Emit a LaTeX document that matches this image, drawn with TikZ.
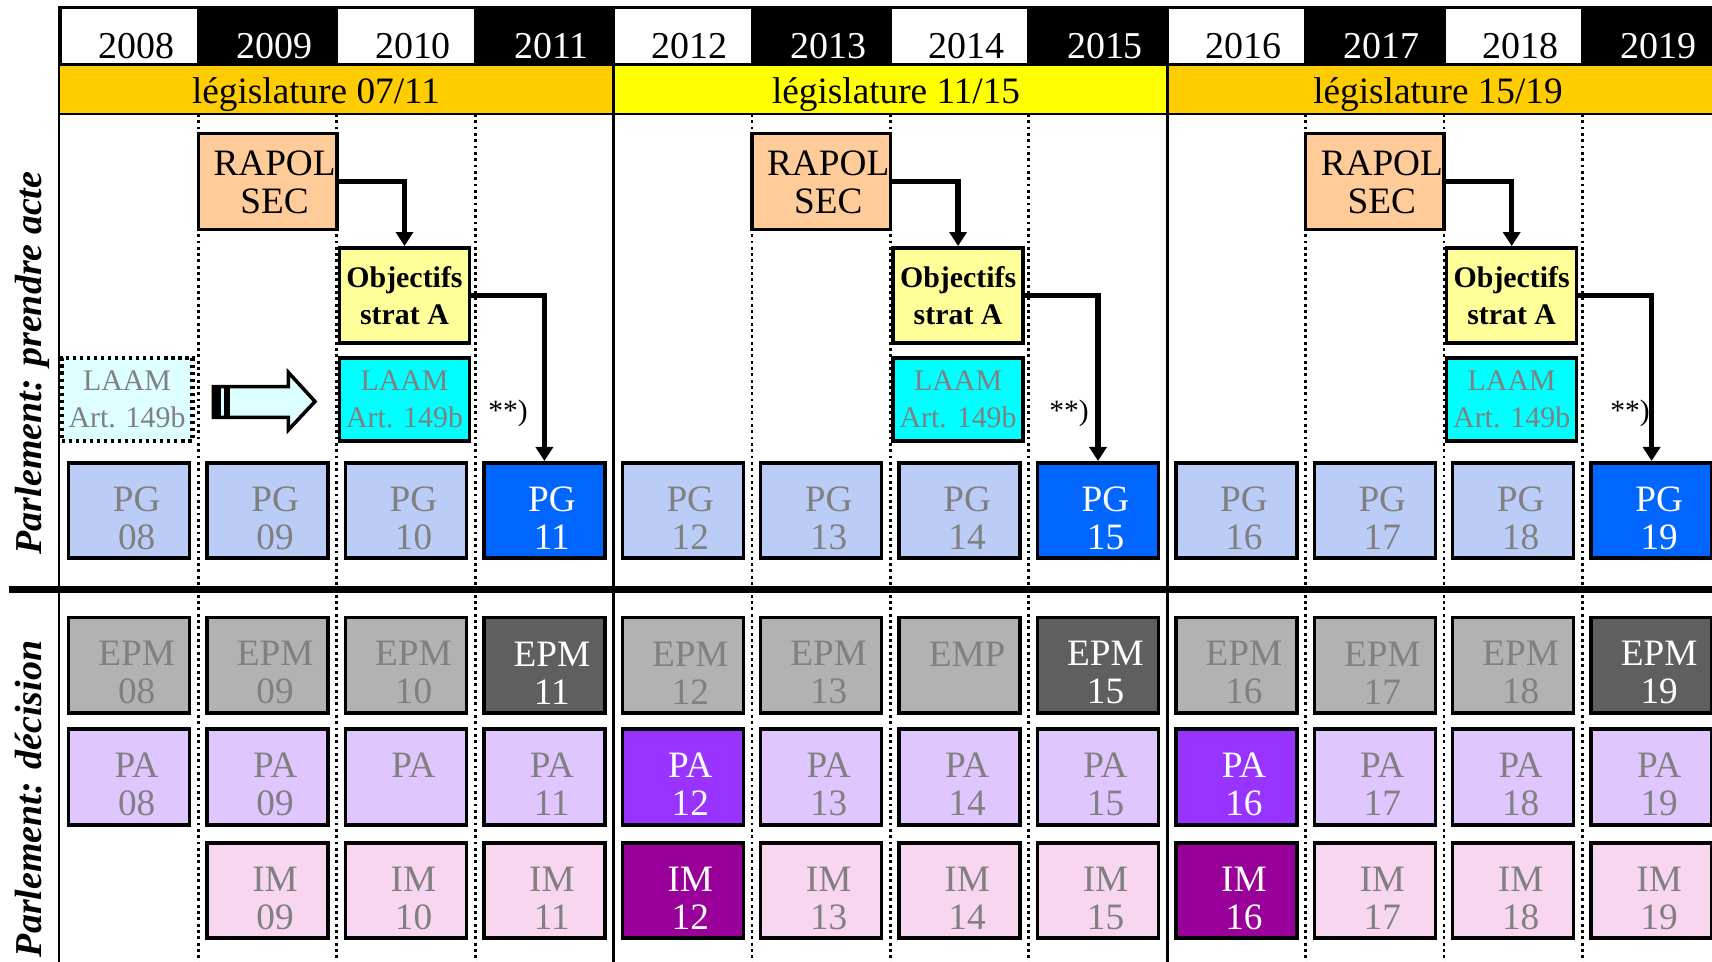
\documentclass[tikz,border=0pt]{standalone}
\usepackage{fontspec}
\setmainfont{Liberation Serif}
\usetikzlibrary{calc,arrows.meta}

\definecolor{pglight}{RGB}{187,204,247}
\definecolor{pgdark}{RGB}{0,102,255}
\definecolor{epmlight}{RGB}{178,178,178}
\definecolor{epmdark}{RGB}{95,95,95}
\definecolor{palight}{RGB}{224,198,255}
\definecolor{padark}{RGB}{153,51,255}
\definecolor{imlight}{RGB}{248,214,240}
\definecolor{imdark}{RGB}{153,0,153}
\definecolor{rapolfill}{RGB}{255,204,153}
\definecolor{objfill}{RGB}{255,255,153}
\definecolor{laamfill}{RGB}{0,255,255}
\definecolor{laamlight}{RGB}{221,255,255}
\definecolor{legorange}{RGB}{255,204,0}
\definecolor{legyellow}{RGB}{255,255,0}
\definecolor{txtgray}{RGB}{128,128,128}

\begin{document}
\begin{tikzpicture}[%
  cell/.style={draw,line width=1pt,minimum width=1.21cm,minimum height=0.955cm,inner sep=0pt},
  pgdim/.style={cell,fill=pglight},
  pghi/.style={cell,fill=pgdark},
  epmdim/.style={cell,fill=epmlight},
  epmhi/.style={cell,fill=epmdark},
  padim/.style={cell,fill=palight},
  pahi/.style={cell,fill=padark},
  imdim/.style={cell,fill=imlight},
  imhi/.style={cell,fill=imdark},
  celltext/.style={align=center,inner sep=0pt,font=\fontsize{10.6}{10.8}\selectfont},
  txtdim/.style={celltext,text=txtgray},
  txthi/.style={celltext,text=white},
  rapol/.style={draw,line width=1pt,fill=rapolfill,minimum width=1.384cm,minimum height=0.96cm,inner sep=0pt},
  objectif/.style={draw,line width=1pt,fill=objfill,minimum width=1.30cm,minimum height=0.95cm,
    inner sep=0pt,align=center,font=\bfseries\fontsize{8.5}{10.6}\selectfont},
  laam/.style={draw,line width=1pt,fill=laamfill,minimum width=1.30cm,minimum height=0.83cm,
    inner sep=0pt,align=center,text=txtgray,font=\fontsize{8.5}{10.7}\selectfont},
  year/.style={anchor=base,font=\fontsize{10.8}{12}\selectfont},
  legis/.style={anchor=base,font=\fontsize{10.6}{12}\selectfont},
  side/.style={rotate=90,anchor=base,font=\bfseries\itshape\fontsize{10.8}{12}\selectfont},
  note/.style={anchor=base,font=\fontsize{8.4}{10}\selectfont},
  link/.style={line width=1.5pt,-{Triangle[width=0.17cm,length=0.14cm]}},
  sep/.style={densely dotted,line width=0.8pt}]
    \useasboundingbox (0,0) rectangle (17.12,-9.62);
    \clip (0,0) rectangle (17.12,-9.62);
    % Years
    \fill[black] (0.59,-0.06) rectangle (17.12,-0.66);
    \foreach \n/\yr/\bg/\fg in {0/2008/white/black,1/2009/black/white,2/2010/white/black,
      3/2011/black/white,4/2012/white/black,5/2013/black/white,6/2014/white/black,
      7/2015/black/white,8/2016/white/black,9/2017/black/white,10/2018/white/black,
      11/2019/black/white}{
      \pgfmathsetmacro\xl{0.60+1.384*\n}
      \fill[fill=\bg] ({\xl+0.015},-0.09) rectangle ({\xl+1.369},-0.63);
      \node[year,text=\fg] (y\yr) at ({\xl+0.762},-0.583) {\yr};
    }
    % Legislatures
    \draw[line width=0.8pt,fill=legorange] (0.59,-0.65) rectangle (6.136,-1.14);
    \draw[line width=0.8pt,fill=legyellow] (6.136,-0.65) rectangle (11.672,-1.14);
    \draw[line width=0.8pt,fill=legorange] (11.672,-0.65) rectangle (17.4,-1.14);
    \node[legis] (leg1) at (3.16,-1.04) {législature 07/11};
    \node[legis] (leg2) at (8.96,-1.04) {législature 11/15};
    \node[legis] (leg3) at (14.38,-1.04) {législature 15/19};
    % Grid
    \draw[line width=0.8pt] (0.59,-0.06) -- (0.59,-9.62);
    \draw[line width=0.8pt] (6.136,-0.06) -- (6.136,-9.62);
    \draw[line width=0.8pt] (11.672,-0.06) -- (11.672,-9.62);
    \foreach \n in {1,2,3,5,6,7,9,10,11}
      \draw[sep] ({0.60+1.384*\n},-1.14) -- ({0.60+1.384*\n},-9.62);
    \draw[line width=1.9pt] (0.087,-5.895) -- (17.12,-5.895);
    \node[side] (acte) at (0.415,-3.63) {Parlement: prendre acte};
    \node[side] (decision) at (0.415,-7.99) {Parlement: décision};
    % Parlement: prendre acte
    \foreach \n/\yy/\k in {0/08/dim,1/09/dim,2/10/dim,3/11/hi,4/12/dim,5/13/dim,
      6/14/dim,7/15/hi,8/16/dim,9/17/dim,10/18/dim,11/19/hi}{
      \node[pg\k] (pg\yy) at ({1.292+1.384*\n},-5.105) {};
      \node[txt\k] (pgt\yy) at ($(pg\yy)+(0.075,-0.076)$) {PG\\\yy};
    }
    \node[laam,fill=laamlight,densely dotted,line width=1.2pt,minimum width=1.31cm] (laam08) at (1.27,-3.995) {LAAM\\Art. 149b};
    \filldraw[fill=laamlight,line width=1pt,line join=miter] (2.133,-3.867) -- (2.883,-3.867) -- (2.883,-3.723)
      -- (3.15,-4.015) -- (2.883,-4.30) -- (2.883,-4.173) -- (2.133,-4.173) -- cycle;
    \fill[black] (2.133,-3.867) rectangle (2.21,-4.173);
    \fill[black] (2.24,-3.867) rectangle (2.30,-4.173);
    \foreach \c/\pgy in {0/11,1/15,2/19}{
      \node[rapol] (rapol\c) at ({2.676+5.536*\c},-1.813) {};
      \node[celltext] (rapolt\c) at ($(rapol\c)+(0.07,-0.01)$) {RAPOL\\SEC};
      \node[objectif] (obj\c) at ({4.045+5.536*\c},-2.953) {Objectifs\\strat A};
      \node[laam] (laam\c) at ({4.045+5.536*\c},-3.995) {LAAM\\Art. 149b};
      \node[note] (note\c) at ({5.08+5.61*\c},-4.21) {**)};
      \draw[link] (rapol\c.east) -| (obj\c.north);
      \draw[link] (obj\c.east) -| (pg\pgy.north);
    }
    % Parlement: decision
    \foreach \n/\yy/\k/\linea/\lineb in {0/08/dim/EPM/08,1/09/dim/EPM/09,2/10/dim/EPM/10,
      3/11/hi/EPM/11,4/12/dim/EPM/12,5/13/dim/EPM/13,6/14/dim/EMP/\phantom{14},
      7/15/hi/EPM/15,8/16/dim/EPM/16,9/17/dim/EPM/17,10/18/dim/EPM/18,11/19/hi/EPM/19}{
      \node[epm\k] (epm\yy) at ({1.292+1.384*\n},-6.653) {};
      \node[txt\k] (epmt\yy) at ($(epm\yy)+(0.075,-0.076)$) {\linea\\\lineb};
    }
    \foreach \n/\yy/\k/\lineb in {0/08/dim/08,1/09/dim/09,2/10/dim/\phantom{10},3/11/dim/11,
      4/12/hi/12,5/13/dim/13,6/14/dim/14,7/15/dim/15,8/16/hi/16,9/17/dim/17,10/18/dim/18,11/19/dim/19}{
      \node[pa\k] (pa\yy) at ({1.292+1.384*\n},-7.77) {};
      \node[txt\k] (pat\yy) at ($(pa\yy)+(0.075,-0.076)$) {PA\\\lineb};
    }
    \foreach \n/\yy/\k in {1/09/dim,2/10/dim,3/11/dim,4/12/hi,5/13/dim,6/14/dim,
      7/15/dim,8/16/hi,9/17/dim,10/18/dim,11/19/dim}{
      \node[im\k] (im\yy) at ({1.292+1.384*\n},-8.905) {};
      \node[txt\k] (imt\yy) at ($(im\yy)+(0.075,-0.076)$) {IM\\\yy};
    }
\end{tikzpicture}
\end{document}
